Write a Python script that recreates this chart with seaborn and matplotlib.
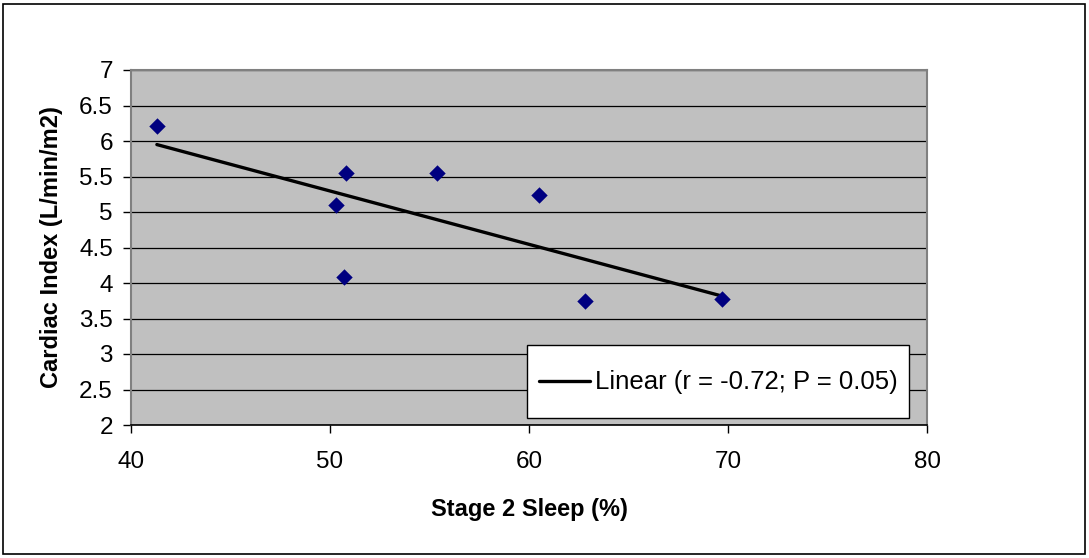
import matplotlib
matplotlib.use("Agg")
import matplotlib.pyplot as plt
import matplotlib.transforms as mtransforms
import seaborn as sns
import pandas as pd
from matplotlib.patches import Rectangle

# Data
stage2_sleep = [41.3, 50.3, 50.8, 50.7, 55.4, 60.5, 62.8, 69.7]
cardiac_index = [6.21, 5.10, 5.55, 4.08, 5.55, 5.24, 3.75, 3.77]
x_ticks = [40, 50, 60, 70, 80]
y_ticks = [2, 2.5, 3, 3.5, 4, 4.5, 5, 5.5, 6, 6.5, 7]
y_tick_labels = ["2", "2.5", "3", "3.5", "4", "4.5", "5", "5.5", "6", "6.5", "7"]
legend_label = "Linear (r = -0.72; P = 0.05)"

df = pd.DataFrame({"x": stage2_sleep, "y": cardiac_index})

sns.set_style("white")
plt.rcParams["font.family"] = ["Liberation Sans", "DejaVu Sans"]
plt.rcParams["text.color"] = "black"
plt.rcParams["axes.labelcolor"] = "black"
plt.rcParams["xtick.color"] = "black"
plt.rcParams["ytick.color"] = "black"

fig = plt.figure(figsize=(10.89, 5.58), dpi=100)
ax = fig.add_axes([131 / 1089, 1 - 425 / 558, 796 / 1089, 355 / 558])
ax.set_facecolor("#C0C0C0")

# Figure outer border
fig.patches.append(Rectangle((3 / 1089, 4 / 558), 1082 / 1089, 550 / 558,
                             transform=fig.transFigure, fill=False,
                             edgecolor="black", linewidth=1.2))

for yv in y_ticks:
    ax.axhline(yv, color="black", linewidth=0.9, zorder=1)

sns.regplot(data=df, x="x", y="y", scatter=False, ci=None, truncate=True,
            color="black", line_kws={"linewidth": 2.4, "zorder": 3},
            label=legend_label, ax=ax)
sns.scatterplot(data=df, x="x", y="y", marker="D", color="#000080", s=70,
                edgecolor="#000080", linewidth=0, zorder=4, ax=ax, legend=False)

ax.set_xlim(40, 80)
ax.set_ylim(2, 7)
ax.set_xticks(x_ticks)
ax.set_yticks(y_ticks)
ax.set_yticklabels(y_tick_labels)

for side in ["top", "right"]:
    ax.spines[side].set_color("#808080")
    ax.spines[side].set_linewidth(1.5)
ax.spines["left"].set_color("#808080")
ax.spines["left"].set_linewidth(1.5)
ax.spines["bottom"].set_color("black")
ax.spines["bottom"].set_linewidth(1.2)

ax.tick_params(axis="x", direction="out", length=6, width=1, color="black",
               labelcolor="black", labelsize=17.5, pad=13, bottom=True)
ax.tick_params(axis="y", direction="out", length=6, width=1, color="black",
               labelcolor="black", labelsize=17.5, pad=7, left=True)

ax.set_xlabel("Stage 2 Sleep (%)", fontsize=17, fontweight="bold", labelpad=18,
              color="black")
ax.set_ylabel("Cardiac Index (L/min/m2)", fontsize=17, fontweight="bold", labelpad=12,
              color="black")

leg = ax.legend(loc="lower left", bbox_to_anchor=(0.4975, 0.0197),
                fontsize=18.5, frameon=True, fancybox=False,
                borderpad=0.45, handlelength=2.0, handletextpad=0.2,
                handleheight=2.6, borderaxespad=0)
leg.get_frame().set_edgecolor("black")
leg.get_frame().set_facecolor("white")
leg.get_frame().set_alpha(1)
leg.get_frame().set_linewidth(1.0)
for t in leg.get_texts():
    t.set_color("black")
# Lower the legend line so it sits at the text's mid-height
for h in leg.legend_handles:
    h.set_transform(h.get_transform() +
                    mtransforms.ScaledTranslation(0, -8 / 100, fig.dpi_scale_trans))

fig.savefig("out.png", dpi=100)
